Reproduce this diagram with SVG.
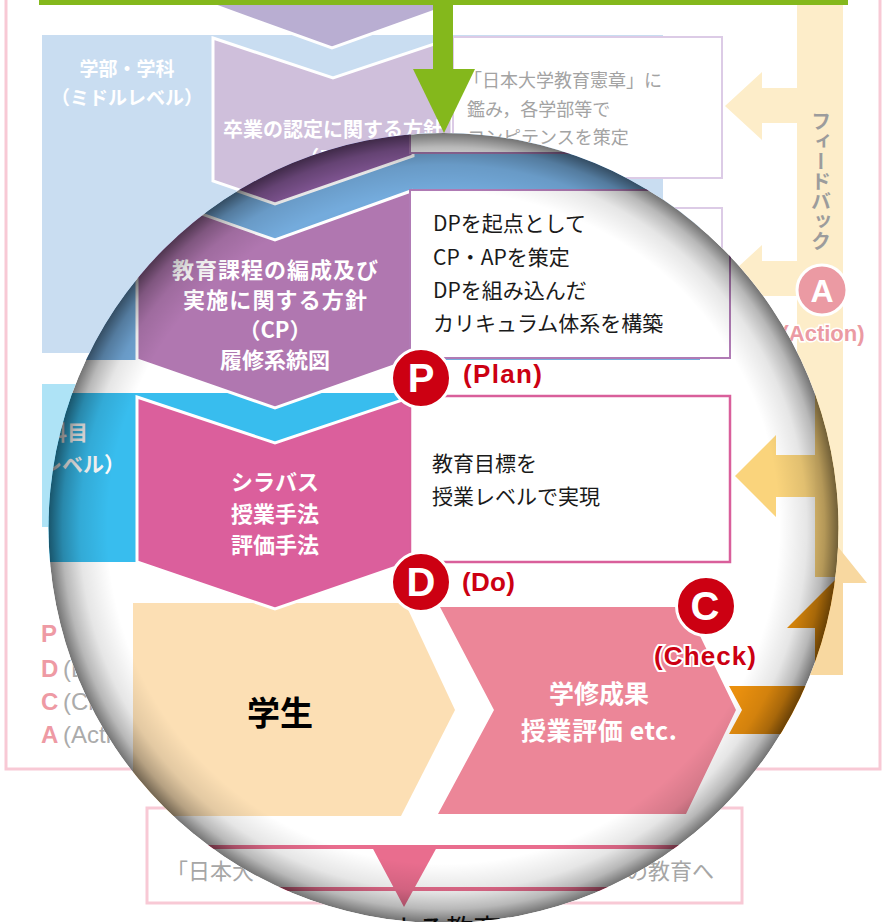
<svg xmlns="http://www.w3.org/2000/svg" width="884" height="922" viewBox="0 0 884 922">
<style>
.jp{font-family:"Noto Sans CJK JP","Noto Sans CJK SC",sans-serif}
.lat{font-family:"Liberation Sans",Arial,sans-serif}
.b{font-weight:bold}
.w{fill:#fff}
.ochev{stroke:#fff;stroke-width:3}
.obox{fill:#fff;stroke:#dccbe6;stroke-width:2}
.ogray{fill:#a3a3a3;font-size:18px}
.ochevtxt{fill:#fff;font-size:20px;font-weight:bold}
.mchev{stroke:#fff;stroke-width:3}
.mtxt{fill:#1a1a1a;font-size:21px}
.mw{fill:#fff;font-weight:bold;font-size:22px}
.redc{fill:#cc0012;stroke:#fff;stroke-width:3}
.redt{fill:#cc0012;font-weight:bold;font-size:26px}
.letter{fill:#fff;font-weight:bold;font-size:40px}
.leg{font-size:24px}
</style>
<defs>
<clipPath id="lensClip"><circle cx="443.5" cy="528" r="395"/></clipPath>
<radialGradient id="rim" gradientUnits="userSpaceOnUse" cx="443.5" cy="528" r="395">
<stop offset="0.85" stop-color="#000" stop-opacity="0"/>
<stop offset="0.92" stop-color="#000" stop-opacity="0.1"/>
<stop offset="0.965" stop-color="#000" stop-opacity="0.28"/>
<stop offset="1" stop-color="#000" stop-opacity="0.55"/>
</radialGradient>
</defs>
<rect width="884" height="922" fill="#fff"/>

<!-- outer (unmagnified) diagram -->
<g id="outer">
<rect x="6" y="-10" width="874" height="779" fill="none" stroke="#f8c9d5" stroke-width="3"/>
<g id="outer-level-blocks">
<rect x="42" y="35" width="621" height="318" fill="#c9ddf1"/>
<rect x="42" y="384" width="400" height="143" fill="#aee3f6"/>
<text class="jp b w" x="127" y="75.5" font-size="19" text-anchor="middle">学部・学科</text>
<text class="jp b w" x="127" y="104.5" font-size="19" text-anchor="middle">（ミドルレベル）</text>
</g>
<g id="outer-chevron-top">
<polygon class="ochev" points="213,-10 452,-10 452,5 332,48 213,5" fill="#b9aed2"/>
</g>
<g id="outer-chevron-dp">
<polygon class="ochev" points="213,38 333,78 452,38 452,181 333,222 213,181" fill="#cfbfdb"/>
<text class="jp ochevtxt" x="333" y="137" text-anchor="middle">卒業の認定に関する方針</text>
<text class="jp ochevtxt" x="333" y="165" text-anchor="middle">（DP）</text>
</g>
<g id="outer-box-dp">
<rect class="obox" x="453" y="37" width="269" height="141"/>
<text class="jp ogray" x="464" y="86.5">「日本大学教育憲章」に</text>
<text class="jp ogray" x="467" y="115.5">鑑み，各学部等で</text>
<text class="jp ogray" x="467" y="144">コンピテンスを策定</text>
</g>
<g id="outer-box-cp">
<rect class="obox" x="453" y="208" width="269" height="145"/>
</g>
<g id="green-arrow">
<rect x="39" y="-10" width="809" height="15" fill="#84b81c"/>
<rect x="433" y="0" width="20" height="70" fill="#84b81c"/>
<polygon points="413,69 475,69 444,133" fill="#84b81c"/>
</g>
<g id="feedback">
<rect x="797" y="5" width="46" height="578" fill="#fdedc9"/>
<polygon points="725,106 762,72 762,88 797,88 797,123 762,123 762,140" fill="#fdedc9"/>
<polygon points="725,279 762,245 762,261 797,261 797,296 762,296 762,313" fill="#fdedc9"/>
<polygon points="797,675 797,583 777,583 822,527 867,583 843,583 843,675" fill="#f8d8a0"/>
<text class="jp b" x="821" y="111" font-size="20" fill="#9c9c9c" style="writing-mode:vertical-rl">フィードバック</text>
<circle cx="822" cy="290" r="25" fill="#eb9aa3" stroke="#fff" stroke-width="3"/>
<text class="lat b w" x="822" y="301.5" font-size="32" text-anchor="middle">A</text>
<text class="lat b" x="823" y="341" font-size="22" text-anchor="middle" fill="#eb9aa3" stroke="#fff" stroke-width="3" paint-order="stroke">(Action)</text>
</g>
<g id="legend">
<text class="lat b leg" x="41" y="642" fill="#ee9aa4">P</text>
<text class="lat b leg" x="41" y="677" fill="#ee9aa4">D</text>
<text class="lat leg" x="63" y="677" fill="#ababab">(Do)</text>
<text class="lat b leg" x="41" y="710" fill="#ee9aa4">C</text>
<text class="lat leg" x="63" y="710" fill="#ababab">(Check)</text>
<text class="lat b leg" x="41" y="743" fill="#ee9aa4">A</text>
<text class="lat leg" x="63" y="743" fill="#ababab">(Action)</text>
</g>
<g id="outer-bottom-box">
<rect x="147" y="808" width="595" height="95" fill="#fff" stroke="#f8c9d5" stroke-width="3"/>
<text class="jp" x="166" y="879" font-size="22" fill="#a6a6a6">「日本大</text>
<text class="jp" x="714" y="879" font-size="22" fill="#a6a6a6" text-anchor="end">の教育へ</text>
</g>
</g>

<!-- magnifying lens -->
<g id="lens">
<circle cx="443.5" cy="528" r="395" fill="#fff"/>
<g clip-path="url(#lensClip)">
<g id="m-levels">
<rect x="0" y="100" width="700" height="260" fill="#74abdc"/>
<rect x="0" y="393" width="411" height="169" fill="#38bdee"/>
<text class="jp b w" x="88" y="440" font-size="21" text-anchor="end">授業科目</text>
<text class="jp b w" x="125" y="472" font-size="21" text-anchor="end">（ミクロレベル）</text>
</g>
<g id="m-feedback">
<rect x="815" y="0" width="100" height="577" fill="#f9d27a"/>
<polygon points="735,476 776,435 776,455 815,455 815,497 776,497 776,517" fill="#fad47c"/>
<polygon points="787,628 838,577 889,628 861,628 861,686 815,686 815,628" fill="#e8900c"/>
<polygon points="729,686 900,686 900,734 729,734 742,710" fill="#ea900e"/>
</g>
<g id="m-chevron-dp">
<polygon class="mchev" points="137,40 275,88 413,40 413,156 275,204 137,156" fill="#8c5da0"/>
</g>
<g id="m-box-dp">
<rect x="410" y="60" width="320" height="93" fill="#fff" stroke="#a879b0" stroke-width="2"/>
</g>
<g id="m-chevron-cp">
<polygon class="mchev" points="137,191 275,240 411,191 411,360 275,408 137,360" fill="#b077b0"/>
<text class="jp mw" x="275" y="278" text-anchor="middle" textLength="206">教育課程の編成及び</text>
<text class="jp mw" x="275" y="308" text-anchor="middle" textLength="184">実施に関する方針</text>
<text class="jp mw" x="275" y="338" text-anchor="middle">（CP）</text>
<text class="jp mw" x="275" y="368" text-anchor="middle">履修系統図</text>
</g>
<g id="m-box-cp">
<rect x="410" y="190" width="320" height="168" fill="#fff" stroke="#b07bb5" stroke-width="2"/>
<text class="jp mtxt" x="433" y="231">DPを起点として</text>
<text class="jp mtxt" x="433" y="264.5">CP・APを策定</text>
<text class="jp mtxt" x="433" y="298">DPを組み込んだ</text>
<text class="jp mtxt" x="433" y="331">カリキュラム体系を構築</text>
</g>
<g id="m-student">
<polygon points="133,603 405,603 455,710 401,816 133,816" fill="#fcdfb4"/>
<text class="jp b" x="280" y="725" font-size="33" text-anchor="middle" fill="#000">学生</text>
</g>
<g id="m-outcome">
<polygon points="440,607 686,607 736,710 686,814 438,814 494,710" fill="#ec8698"/>
<text class="jp b w" x="599" y="703" font-size="25" text-anchor="middle">学修成果</text>
<text class="jp b w" x="599" y="740" font-size="25" text-anchor="middle" textLength="156">授業評価 etc.</text>
</g>
<g id="m-chevron-syllabus">
<polygon class="mchev" points="137,397 275,443 411,397 411,562 275,609 137,562" fill="#db5f9c"/>
<text class="jp mw" x="275" y="490" text-anchor="middle">シラバス</text>
<text class="jp mw" x="275" y="521.5" text-anchor="middle">授業手法</text>
<text class="jp mw" x="275" y="553" text-anchor="middle">評価手法</text>
</g>
<g id="m-box-syllabus">
<rect x="410" y="396" width="320" height="166" fill="#fff" stroke="#d95f9b" stroke-width="2.5"/>
<text class="jp mtxt" x="432" y="470.5">教育目標を</text>
<text class="jp mtxt" x="432" y="503.5">授業レベルで実現</text>
</g>
<g id="m-bottom">
<rect x="0" y="845" width="900" height="4" fill="#e96d8e"/>
<rect x="0" y="887" width="900" height="4" fill="#e96d8e"/>
<polygon points="372,847 437,847 404,907" fill="#e96d8e"/>
<text class="jp" x="390" y="940" font-size="28" fill="#111">よる教育</text>
</g>
<g id="m-badge-p">
<circle class="redc" cx="421" cy="378" r="29.5"/>
<text class="lat letter" x="421" y="392" text-anchor="middle">P</text>
<text class="lat redt" x="463" y="383" textLength="79">(Plan)</text>
</g>
<g id="m-badge-d">
<circle class="redc" cx="421" cy="582" r="29.5"/>
<text class="lat letter" x="421" y="596" text-anchor="middle">D</text>
<text class="lat redt" x="462" y="591" textLength="53">(Do)</text>
</g>
<g id="m-badge-c">
<circle class="redc" cx="706" cy="606" r="29.5"/>
<text class="lat letter" x="705" y="620" text-anchor="middle">C</text>
<text class="lat redt" x="654" y="665" textLength="102" stroke="#fff" stroke-width="4" paint-order="stroke">(Check)</text>
</g>
<circle cx="443.5" cy="528" r="395" fill="url(#rim)"/>
</g>
</g>
</svg>
